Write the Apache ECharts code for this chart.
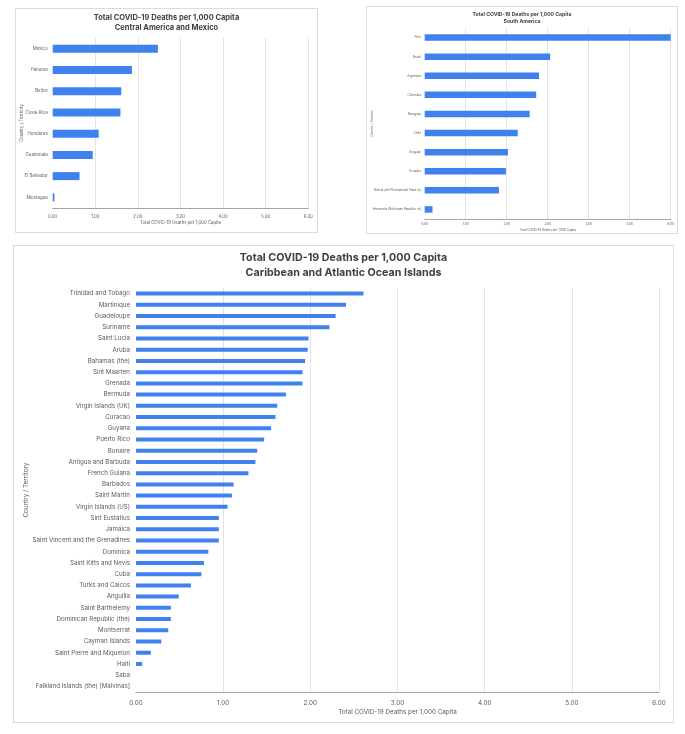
<!DOCTYPE html>
<html>
<head>
<meta charset="utf-8">
<script src="https://cdn.jsdelivr.net/npm/echarts@6/dist/echarts.min.js"></script>
<style>
  html, body { margin: 0; padding: 0; background: #ffffff; width: 685px; height: 734px; overflow: hidden; }
  .panel { position: absolute; background: #ffffff; border: 1px solid #dcdcdc; box-sizing: border-box; }
</style>
</head>
<body>
<div id="c1" class="panel" style="left:15px;top:8px;width:303px;height:225px;"></div>
<div id="c2" class="panel" style="left:366px;top:6px;width:312px;height:228px;"></div>
<div id="c3" class="panel" style="left:13px;top:245px;width:661px;height:478px;"></div>
<script>
// ---- Data ----
const centralCategories = ["Mexico", "Panama", "Belize", "Costa Rica", "Honduras", "Guatemala", "El Salvador", "Nicaragua"];
const centralValues = [2.47, 1.86, 1.61, 1.59, 1.08, 0.94, 0.63, 0.04];

const southCategories = ["Peru", "Brazil", "Argentina", "Colombia", "Paraguay", "Chile", "Uruguay", "Ecuador",
  "Bolivia (the Plurinational State of)", "Venezuela (Bolivarian Republic of)"];
const southValues = [6.0, 3.06, 2.79, 2.72, 2.56, 2.27, 2.03, 1.98, 1.81, 0.19];

const caribCategories = ["Trinidad and Tobago", "Martinique", "Guadeloupe", "Suriname", "Saint Lucia", "Aruba",
  "Bahamas (the)", "Sint Maarten", "Grenada", "Bermuda", "Virgin Islands (UK)", "Curacao", "Guyana",
  "Puerto Rico", "Bonaire", "Antigua and Barbuda", "French Guiana", "Barbados", "Saint Martin",
  "Virgin Islands (US)", "Sint Eustatius", "Jamaica", "Saint Vincent and the Grenadines", "Dominica",
  "Saint Kitts and Nevis", "Cuba", "Turks and Caicos", "Anguilla", "Saint Barthelemy",
  "Dominican Republic (the)", "Montserrat", "Cayman Islands", "Saint Pierre and Miquelon", "Haiti",
  "Saba", "Falkland Islands (the) [Malvinas]"];
const caribValues = [2.61, 2.41, 2.29, 2.22, 1.98, 1.97, 1.94, 1.91, 1.91, 1.72, 1.62, 1.60, 1.55,
  1.47, 1.39, 1.37, 1.29, 1.12, 1.10, 1.05, 0.95, 0.95, 0.95, 0.83, 0.78, 0.75, 0.63, 0.49, 0.40,
  0.40, 0.37, 0.29, 0.17, 0.07, 0, 0];

const xTickMin = 0, xTickMax = 6, xTickInterval = 1;
const titleLine1 = "Total COVID-19 Deaths per 1,000 Capita";
const xAxisName = "Total COVID-19 Deaths per 1,000 Capita";
const yAxisName = "Country / Territory";

// ---- Styles ----
const FONT = "Inter, 'Noto Sans', sans-serif";
const BAR = "#3f81ef";
const LABEL = "#595959";

function makeOption(cfg, cats, vals) {
  return {
    animation: false,
    backgroundColor: "#ffffff",
    title: {
      text: titleLine1 + "\n" + cfg.subtitle,
      left: "center",
      top: cfg.titleTop,
      padding: 0,
      textStyle: { fontFamily: FONT, fontSize: cfg.titleSize, fontWeight: "bold", color: "#404040", lineHeight: cfg.titleLH }
    },
    grid: { left: cfg.grid[0], right: cfg.grid[1], top: cfg.grid[2], bottom: cfg.grid[3],
      containLabel: false, outerBoundsMode: "none" },
    xAxis: {
      type: "value",
      min: xTickMin, max: xTickMax, interval: xTickInterval,
      name: xAxisName,
      nameLocation: "middle",
      nameGap: cfg.xNameGap,
      nameMoveOverlap: false,
      nameTextStyle: { fontFamily: FONT, fontSize: cfg.smallSize, color: LABEL },
      axisLine: { show: true, lineStyle: { color: "#a6a6a6", width: 1 } },
      axisTick: { show: false },
      axisLabel: { fontFamily: FONT, fontSize: cfg.smallSize, color: LABEL, margin: cfg.xLabelMargin,
        formatter: v => v.toFixed(2) },
      splitLine: { show: true, showMinLine: false, lineStyle: { color: "#e3e3e3", width: 1 } }
    },
    yAxis: {
      type: "category",
      data: cats,
      inverse: true,
      name: yAxisName,
      nameLocation: "middle",
      nameRotate: 90,
      nameGap: cfg.yNameGap,
      nameMoveOverlap: false,
      nameTextStyle: { fontFamily: FONT, fontSize: cfg.smallSize, color: LABEL },
      axisLine: { show: false },
      axisTick: { show: false },
      axisLabel: { fontFamily: FONT, fontSize: cfg.catSize, color: LABEL, margin: cfg.yLabelMargin, interval: 0 },
      splitLine: { show: false }
    },
    series: [{
      type: "bar",
      data: vals,
      barWidth: cfg.barWidth,
      itemStyle: { color: BAR },
      clip: true
    }]
  };
}

const c1 = echarts.init(document.getElementById("c1"), null, { renderer: "canvas" });
c1.setOption(makeOption({
  subtitle: "Central America and Mexico",
  titleTop: 4, titleSize: 7.5, titleLH: 10,
  grid: [36.7, 8.7, 29, 24],
  xNameGap: 13, xLabelMargin: 7, yNameGap: 29, yLabelMargin: 5,
  smallSize: 4.3, catSize: 4.4, barWidth: 8
}, centralCategories, centralValues));

const c2 = echarts.init(document.getElementById("c2"), null, { renderer: "canvas" });
c2.setOption(makeOption({
  subtitle: "South America",
  titleTop: 3.5, titleSize: 5.1, titleLH: 7,
  grid: [57.7, 6.3, 21, 14],
  xNameGap: 10, xLabelMargin: 4, yNameGap: 51, yLabelMargin: 3.7,
  smallSize: 3, catSize: 3, barWidth: 6.5
}, southCategories, southValues));

const c3 = echarts.init(document.getElementById("c3"), null, { renderer: "canvas" });
c3.setOption(makeOption({
  subtitle: "Caribbean and Atlantic Ocean Islands",
  titleTop: 4.5, titleSize: 10.7, titleLH: 15,
  grid: [122, 14, 42, 30],
  xNameGap: 17, xLabelMargin: 8, yNameGap: 107, yLabelMargin: 6,
  smallSize: 6.3, catSize: 6.2, barWidth: 4
}, caribCategories, caribValues));
</script>
</body>
</html>
